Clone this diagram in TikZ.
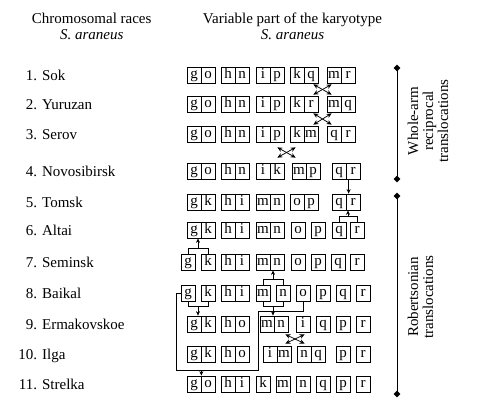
\documentclass[tikz,border=0pt]{standalone}
\usepackage{fontspec}
\setmainfont{Liberation Serif}
\usepackage{tikz}
\usetikzlibrary{arrows.meta,calc,shapes.geometric}

\begin{document}
\begin{tikzpicture}[x=1pt, y=-1pt, line width=0.75pt,
    every node/.style={font=\fontsize{15}{16}\selectfont, inner sep=0pt},
    cell/.style={draw, minimum width=14pt, minimum height=16pt, text height=10.5pt, text depth=3.5pt},
    race/.style={anchor=base west},
    head/.style={anchor=north, align=center},
    side/.style={rotate=90, align=center, font=\fontsize{15}{15}\selectfont},
    tick/.style={diamond, fill, minimum size=7pt},
    link/.style={-{Stealth[length=4.5pt, width=4pt]}},
    swap/.style={{Stealth[length=5pt, width=4.5pt]}-{Stealth[length=5pt, width=4.5pt]}}]
  \useasboundingbox (0,0) rectangle (480,407);

  % --- Column headings ---
  \node[head] (races) at (91.7,13) {Chromosomal races\\\textit{S. araneus}};
  \node[head] (karyo) at (292.5,13) {Variable part of the karyotype\\\textit{S. araneus}};

  % --- Races ---
  \node[race] (race1)  at (33,80)  {\llap{1}. Sok};
  \node[race] (race2)  at (33,109) {\llap{2}. Yuruzan};
  \node[race] (race3)  at (33,139) {\llap{3}. Serov};
  \node[race] (race4)  at (33,176) {\llap{4}. Novosibirsk};
  \node[race] (race5)  at (33,207) {\llap{5}. Tomsk};
  \node[race] (race6)  at (33,235) {\llap{6}. Altai};
  \node[race] (race7)  at (33,267) {\llap{7}. Seminsk};
  \node[race] (race8)  at (33,298) {\llap{8}. Baikal};
  \node[race] (race9)  at (33,329) {\llap{9}. Ermakovskoe};
  \node[race] (race10) at (33,359) {\llap{10}. Ilga};
  \node[race] (race11) at (33,389) {\llap{11}. Strelka};

  % --- Chromosome arms, one row per race ---
  \foreach \x/\t [count=\i] in {187/g,201/o,221/h,235/n,256/i,270/p,290/k,304/q,327/m,341/r}
    \node[cell] (r1-\i) at (\x+7,75) {\t};
  \foreach \x/\t [count=\i] in {187/g,201/o,221/h,235/n,256/i,270/p,290/k,304/r,327/m,341/q}
    \node[cell] (r2-\i) at (\x+7,104) {\t};
  \foreach \x/\t [count=\i] in {187/g,201/o,221/h,235/n,256/i,270/p,290/k,304/m,327/q,341/r}
    \node[cell] (r3-\i) at (\x+7,134) {\t};
  \foreach \x/\t [count=\i] in {187/g,201/o,221/h,235/n,256/i,270/k,292/m,306/p,332/q,346/r}
    \node[cell] (r4-\i) at (\x+7,171) {\t};
  \foreach \x/\t [count=\i] in {187/g,201/k,221/h,235/i,256/m,270/n,290/o,304/p,332/q,346/r}
    \node[cell] (r5-\i) at (\x+7,202) {\t};
  \foreach \x/\t [count=\i] in {187/g,201/k,221/h,235/i,256/m,270/n,291/o,311/p,332/q,350/r}
    \node[cell] (r6-\i) at (\x+7,230) {\t};
  \foreach \x/\t [count=\i] in {181/g,201/k,221/h,235/i,256/m,270/n,291/o,311/p,331/q,350/r}
    \node[cell] (r7-\i) at (\x+7,262) {\t};
  \foreach \x/\t [count=\i] in {181/g,201/k,221/h,235/i,256/m,276/n,296/o,316/p,336/q,356/r}
    \node[cell] (r8-\i) at (\x+7,293) {\t};
  \foreach \x/\t [count=\i] in {187/g,201/k,221/h,235/o,260/m,274/n,296/i,316/q,336/p,356/r}
    \node[cell] (r9-\i) at (\x+7,324) {\t};
  \foreach \x/\t [count=\i] in {187/g,201/k,221/h,235/o,263/i,277/m,297/n,311/q,336/p,356/r}
    \node[cell] (r10-\i) at (\x+7,354) {\t};
  \foreach \x/\t [count=\i] in {187/g,201/o,221/h,235/i,256/k,276/m,296/n,316/q,336/p,356/r}
    \node[cell] (r11-\i) at (\x+7,384) {\t};

  % --- Reciprocal exchanges ---
  \draw[swap] ($(r1-8.south east)+(-5,1)$) -- ($(r2-9.north west)+(5,-1)$);
  \draw[swap] ($(r1-9.south west)+(5,1)$) -- ($(r2-8.north east)+(-5,-1)$);
  \draw[swap] ($(r2-8.south east)+(-5,1)$) -- ($(r3-9.north west)+(5,-1)$);
  \draw[swap] ($(r2-9.south west)+(5,1)$) -- ($(r3-8.north east)+(-5,-1)$);
  \draw[swap] ($(r3-6.south east)+(-7,5)$) -- ($(r4-7.north west)+(4,-5)$);
  \draw[swap] ($(r3-7.south west)+(6,5)$) -- ($(r4-6.north east)+(-7,-5)$);
  \draw[swap] ($(r9-6.south east)+(-3,2)$) -- ($(r10-7.north west)+(8,-2)$);
  \draw[swap] ($(r9-7.south west)+(9,2)$) -- ($(r10-6.north east)+(-6,-2)$);

  % --- Fusions and fissions ---
  \draw[link] ($(r4-10.south west)+(3,0)$) -- ($(r5-10.north west)+(3,0)$);
  \draw (r6-9.north) -- ++(0,-5) -| coordinate[pos=.25] (j6) (r6-10.north);
  \draw[link] (j6) -- (j6 |- r5-10.south);
  \draw (r7-1.north) -- ++(0,-5) -| coordinate[pos=.25] (j7) (r7-2.north);
  \draw[link] (j7) -- (j7 |- r6-1.south);
  \draw (r8-5.north) -- ++(0,-5) -| coordinate[pos=.25] (j8) (r8-6.north);
  \draw[link] (j8) -- (j8 |- r7-5.south);
  \draw (r8-1.south) -- ++(0,5) -| coordinate[pos=.25] (j9a) (r8-2.south);
  \draw[link] (j9a) -- (j9a |- r9-1.north);
  \draw (r8-5.south) -- ++(0,5) -| coordinate[pos=.25] (j9b) (r8-6.south);
  \draw[link] (j9b) -- (j9b |- r9-5.north);
  % g and o of Baikal join in Strelka
  \coordinate (go-l) at (176,370);
  \coordinate (go-r) at (258,370);
  \draw (r8-7.south) -- ++(0,10) -| (go-r) -- (go-l) |- (r8-1.west);
  \draw[link] (go-l -| r11-1.east) -- (r11-1.north east);

  % --- Translocation types ---
  \node[tick] (wa-top) at (397,68) {};
  \node[tick] (wa-bot) at (397,179) {};
  \node[tick] (rb-top) at (397,196) {};
  \node[tick] (rb-bot) at (397,394) {};
  \draw (wa-top.center) -- (wa-bot.center);
  \draw (rb-top.center) -- (rb-bot.center);
  \node[side] (wa-lab) at (428,121) {Whole-arm\\reciprocal\\translocations};
  \node[side] (rb-lab) at (420.5,297) {Robertsonian\\translocations};
\end{tikzpicture}
\end{document}
